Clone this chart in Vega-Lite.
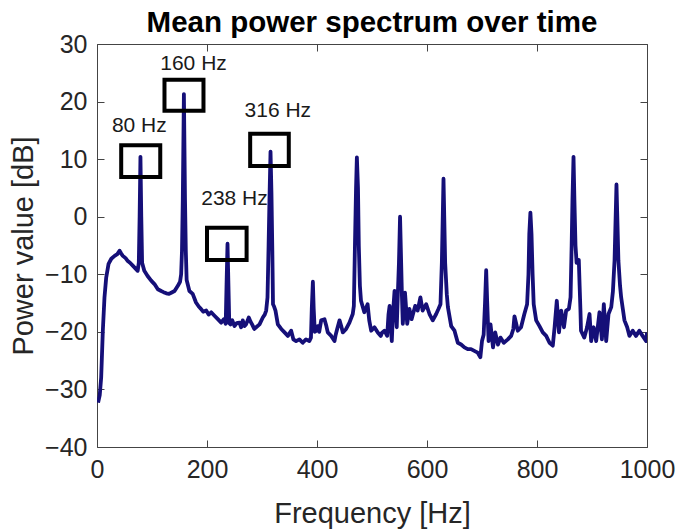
{
  "$schema": "https://vega.github.io/schema/vega-lite/v6.json",
  "width": 550,
  "height": 403,
  "autosize": {"type": "none"},
  "padding": {"left": 97, "top": 44, "right": 45, "bottom": 84},
  "background": "white",
  "config": {
    "view": {"stroke": null},
    "font": "Liberation Sans",
    "axis": {
      "grid": false,
      "domainColor": "#444444",
      "domainWidth": 1,
      "tickColor": "#444444",
      "tickWidth": 1,
      "tickSize": -7,
      "labelFont": "Liberation Sans",
      "labelFontSize": 25,
      "labelColor": "#262626",
      "titleFont": "Liberation Sans",
      "titleFontSize": 29,
      "titleFontWeight": "normal",
      "titleColor": "#262626"
    }
  },
  "title": {
    "text": "Mean power spectrum over time",
    "fontSize": 29.5,
    "fontWeight": "bold",
    "font": "Liberation Sans",
    "color": "#000000",
    "anchor": "middle",
    "frame": "group",
    "baseline": "bottom",
    "offset": 8,
    "dy": 43
  },
  "datasets": {
    "spectrum": [
      {"f":2,"p":-32.3},{"f":5,"p":-31},{"f":7.6,"p":-27.9},{"f":10.6,"p":-19.8},{"f":13.6,"p":-14},{"f":16.7,"p":-10.6},{"f":21,"p":-8.2},{"f":26,"p":-7.3},{"f":32,"p":-6.8},{"f":37,"p":-6.5},{"f":41,"p":-5.9},{"f":44,"p":-6.4},{"f":47,"p":-6.8},{"f":52,"p":-7.2},{"f":56,"p":-7.7},{"f":60,"p":-8.0},{"f":65,"p":-8.5},{"f":71,"p":-9.1},{"f":74,"p":-9.4},{"f":76,"p":-8},{"f":77.5,"p":0},{"f":79,"p":10.4},{"f":80.5,"p":0},{"f":82,"p":-8},{"f":86,"p":-9.4},{"f":92,"p":-10.3},{"f":98.5,"p":-11.1},{"f":104.5,"p":-11.7},{"f":110.6,"p":-12.6},{"f":116.7,"p":-12.9},{"f":121,"p":-13.1},{"f":126,"p":-13.3},{"f":131,"p":-13.4},{"f":135,"p":-13.2},{"f":141,"p":-12.9},{"f":147,"p":-12},{"f":151,"p":-11.3},{"f":153,"p":-10},{"f":154.5,"p":-6},{"f":156,"p":3},{"f":158,"p":21.3},{"f":160,"p":3},{"f":161.5,"p":-6},{"f":163,"p":-11},{"f":168,"p":-12.9},{"f":174,"p":-13.4},{"f":180,"p":-14.9},{"f":185,"p":-15.6},{"f":189,"p":-16},{"f":193,"p":-16.5},{"f":198.5,"p":-16.3},{"f":203,"p":-17},{"f":207.6,"p":-16.6},{"f":213.6,"p":-17.2},{"f":219.7,"p":-17.8},{"f":225.8,"p":-18.4},{"f":230.6,"p":-17.8},{"f":234,"p":-18.6},{"f":235.5,"p":-12},{"f":237.3,"p":-4.7},{"f":239,"p":-12},{"f":240.5,"p":-18.5},{"f":242.7,"p":-18.7},{"f":246,"p":-18},{"f":250,"p":-19},{"f":254,"p":-18.5},{"f":259,"p":-18.4},{"f":262,"p":-19.2},{"f":265,"p":-18},{"f":268,"p":-19},{"f":271,"p":-18.7},{"f":276,"p":-17.5},{"f":279,"p":-18.2},{"f":282,"p":-18.7},{"f":286,"p":-19.5},{"f":289.4,"p":-19.2},{"f":295.5,"p":-18.7},{"f":301.5,"p":-17.5},{"f":305,"p":-17},{"f":307.6,"p":-16.3},{"f":310,"p":-14},{"f":312,"p":-5},{"f":313.8,"p":4},{"f":315.5,"p":11.3},{"f":317.2,"p":4},{"f":318.8,"p":-6},{"f":320,"p":-15.2},{"f":322,"p":-15.6},{"f":324.5,"p":-16.3},{"f":328.8,"p":-18.7},{"f":335,"p":-19.5},{"f":341,"p":-20.1},{"f":347,"p":-20.7},{"f":353,"p":-19.8},{"f":357,"p":-21.3},{"f":362,"p":-21.6},{"f":368,"p":-21.3},{"f":374,"p":-21.9},{"f":380,"p":-21.3},{"f":386,"p":-21.6},{"f":389,"p":-21},{"f":390.5,"p":-16},{"f":392.5,"p":-11.3},{"f":394,"p":-16},{"f":396,"p":-20},{"f":398.5,"p":-19.8},{"f":401.5,"p":-19},{"f":404,"p":-20},{"f":407.6,"p":-18},{"f":413.6,"p":-17.8},{"f":417,"p":-19},{"f":419.6,"p":-20.1},{"f":425.8,"p":-20.7},{"f":431.8,"p":-21.6},{"f":434,"p":-20.5},{"f":436.7,"p":-19.5},{"f":441,"p":-18},{"f":444,"p":-19},{"f":447,"p":-20.1},{"f":453,"p":-19.5},{"f":459,"p":-18.4},{"f":465,"p":-16.9},{"f":467,"p":-15.5},{"f":469,"p":-5},{"f":471,"p":5},{"f":472.5,"p":10.3},{"f":474.5,"p":5},{"f":476,"p":-5},{"f":478,"p":-12},{"f":480,"p":-14.6},{"f":486,"p":-16.6},{"f":492,"p":-15.2},{"f":495,"p":-18},{"f":498.5,"p":-19.8},{"f":504.5,"p":-19.2},{"f":510.5,"p":-20.1},{"f":516,"p":-20.7},{"f":518,"p":-20.2},{"f":522.7,"p":-19.8},{"f":527.6,"p":-20.7},{"f":530,"p":-17},{"f":532,"p":-15.5},{"f":534,"p":-19},{"f":536,"p":-21.6},{"f":538,"p":-17},{"f":541,"p":-12.9},{"f":543,"p":-16},{"f":545,"p":-19.2},{"f":547,"p":-13.4},{"f":549,"p":-8},{"f":551,"p":0},{"f":553,"p":-8},{"f":554.5,"p":-14},{"f":556,"p":-18.6},{"f":560,"p":-13.2},{"f":564,"p":-18.6},{"f":568,"p":-16},{"f":572,"p":-17.8},{"f":578.5,"p":-15.5},{"f":583,"p":-16.3},{"f":588,"p":-14},{"f":592,"p":-16.3},{"f":598.5,"p":-15.2},{"f":604.5,"p":-16.9},{"f":610.5,"p":-18},{"f":616.7,"p":-16.9},{"f":621,"p":-16},{"f":624.5,"p":-15.2},{"f":627,"p":-8},{"f":630,"p":6.6},{"f":633,"p":-8},{"f":636,"p":-13.5},{"f":638,"p":-15.7},{"f":644,"p":-19},{"f":650,"p":-19.8},{"f":656,"p":-21.9},{"f":662,"p":-22.2},{"f":668,"p":-22.7},{"f":674,"p":-23},{"f":680,"p":-23},{"f":686,"p":-23.3},{"f":692,"p":-23.6},{"f":697,"p":-24.4},{"f":700,"p":-21.6},{"f":703,"p":-20.5},{"f":705.5,"p":-15},{"f":707.6,"p":-9.3},{"f":709.5,"p":-15},{"f":712,"p":-21.6},{"f":715.5,"p":-18.7},{"f":720,"p":-22.7},{"f":724,"p":-20.1},{"f":729,"p":-22.2},{"f":733.6,"p":-21},{"f":739.6,"p":-21.9},{"f":747,"p":-21.3},{"f":753,"p":-20.7},{"f":757,"p":-19.5},{"f":759,"p":-17.3},{"f":762,"p":-18.5},{"f":765,"p":-19.8},{"f":771,"p":-19.2},{"f":777,"p":-16.9},{"f":782,"p":-15.2},{"f":784.5,"p":-10},{"f":786,"p":-3},{"f":788,"p":0.7},{"f":790,"p":-3},{"f":792,"p":-10},{"f":794,"p":-15.2},{"f":798.5,"p":-18},{"f":804.5,"p":-19},{"f":810.5,"p":-20.1},{"f":816.7,"p":-20.7},{"f":822.7,"p":-21.9},{"f":828.7,"p":-22.4},{"f":832,"p":-19.2},{"f":836,"p":-14.6},{"f":840,"p":-20.1},{"f":844,"p":-16.3},{"f":849,"p":-19.2},{"f":853,"p":-16.3},{"f":858,"p":-16},{"f":861,"p":-14},{"f":863,"p":-5},{"f":864.5,"p":3},{"f":866.4,"p":10.4},{"f":868,"p":3},{"f":870,"p":-5},{"f":872,"p":-8},{"f":874,"p":-7.5},{"f":876,"p":-7.5},{"f":877.5,"p":-12},{"f":879,"p":-16.3},{"f":880,"p":-19.8},{"f":886,"p":-21},{"f":891,"p":-19.2},{"f":895.5,"p":-16.9},{"f":898.5,"p":-21.6},{"f":903,"p":-19.2},{"f":907.6,"p":-21.6},{"f":913.6,"p":-16.6},{"f":918,"p":-21.3},{"f":921.5,"p":-15.2},{"f":925.8,"p":-21.6},{"f":930,"p":-16.9},{"f":935,"p":-15.7},{"f":938,"p":-13},{"f":941,"p":-7.6},{"f":944.5,"p":5.6},{"f":948,"p":-7.6},{"f":951,"p":-12},{"f":953,"p":-14},{"f":956,"p":-16},{"f":959,"p":-18},{"f":964,"p":-19.2},{"f":968,"p":-20.7},{"f":974,"p":-19.8},{"f":980,"p":-20.7},{"f":986,"p":-19.8},{"f":992,"p":-20.7},{"f":998.5,"p":-21.6},{"f":1000,"p":-20.1}
    ],
    "boxes": [
      {"label": "80 Hz", "x1": 44, "x2": 115, "y1": 6.9, "y2": 12.4, "tx": 77, "ty": 15.8},
      {"label": "160 Hz", "x1": 122.7, "x2": 193.6, "y1": 18.4, "y2": 23.8, "tx": 175.5, "ty": 26.5},
      {"label": "238 Hz", "x1": 200, "x2": 272, "y1": -7.5, "y2": -1.9, "tx": 250, "ty": 3.1},
      {"label": "316 Hz", "x1": 278.5, "x2": 348.7, "y1": 8.8, "y2": 14.4, "tx": 328.8, "ty": 18.4}
    ]
  },
  "layer": [
    {
      "data": {"name": "spectrum"},
      "mark": {"type": "line", "color": "#150f78", "strokeWidth": 3.8, "strokeJoin": "round", "clip": true},
      "encoding": {
        "x": {"field": "f", "type": "quantitative", "scale": {"domain": [0, 1000], "nice": false},
              "axis": {"orient": "bottom", "values": [0, 200, 400, 600, 800, 1000], "format": "d", "title": "Frequency [Hz]", "labelPadding": 17, "titlePadding": 17, "labelFlush": false}},
        "y": {"field": "p", "type": "quantitative", "scale": {"domain": [-40, 30], "nice": false},
              "axis": {"orient": "left", "values": [-40, -30, -20, -10, 0, 10, 20, 30], "title": "Power value [dB]", "labelPadding": 17, "titlePadding": 6}}
      }
    },
    {
      "data": {"name": "boxes"},
      "mark": {"type": "rect", "filled": false, "stroke": "#000000", "strokeWidth": 4},
      "encoding": {
        "x": {"field": "x1", "type": "quantitative", "scale": {"domain": [0, 1000], "nice": false},
              "axis": {"orient": "top", "values": [0, 200, 400, 600, 800, 1000], "labels": false, "title": null}},
        "x2": {"field": "x2"},
        "y": {"field": "y1", "type": "quantitative", "scale": {"domain": [-40, 30], "nice": false},
              "axis": {"orient": "right", "values": [-40, -30, -20, -10, 0, 10, 20, 30], "labels": false, "title": null}},
        "y2": {"field": "y2"}
      }
    },
    {
      "data": {"name": "boxes"},
      "mark": {"type": "text", "fontSize": 21, "font": "Liberation Sans", "color": "#1a1a1a", "align": "center", "baseline": "middle"},
      "encoding": {
        "x": {"field": "tx", "type": "quantitative", "axis": null},
        "y": {"field": "ty", "type": "quantitative", "axis": null},
        "text": {"field": "label"}
      }
    }
  ],
  "resolve": {"axis": {"x": "independent", "y": "independent"}}
}
